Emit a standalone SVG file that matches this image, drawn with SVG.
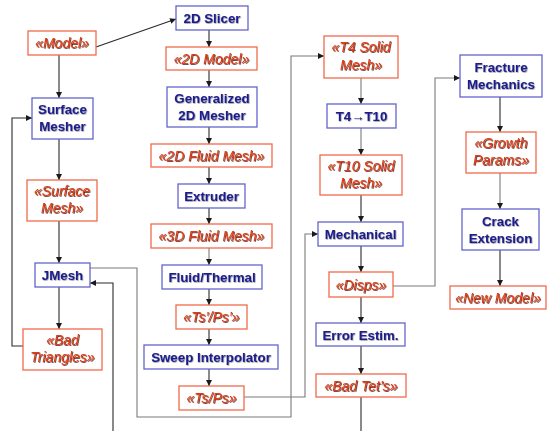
<svg xmlns="http://www.w3.org/2000/svg" width="547" height="431" viewBox="0 0 547 431">
<style>
.b rect{fill:#fff;stroke:#6464cc;stroke-width:1.3}
.r rect{fill:#fff;stroke:#f06a4a;stroke-width:1.3}
.b text{font-family:"Liberation Sans",Arial,sans-serif;font-weight:bold;font-size:13.3px;fill:#1c1c8c;text-anchor:middle;filter:url(#sh)}
.r text{font-family:"Liberation Sans",Arial,sans-serif;font-style:italic;font-size:14px;fill:#e33a12;text-anchor:middle;filter:url(#sh2)}
#connectors path{fill:none;stroke:#2a2a2a;stroke-width:1.1}
#connectors path.g{stroke:#7a7a7a}
</style>
<defs>
<filter id="sh" x="-5%" y="-10%" width="110%" height="130%"><feDropShadow dx="0.6" dy="0.6" stdDeviation="0.2" flood-color="#000" flood-opacity="0.5"/></filter>
<filter id="sh2" x="-5%" y="-10%" width="110%" height="130%"><feDropShadow dx="0.8" dy="0.8" stdDeviation="0.2" flood-color="#300" flood-opacity="0.85"/></filter>
<marker id="a" markerUnits="userSpaceOnUse" markerWidth="6" markerHeight="6" refX="6" refY="3" orient="auto"><path d="M0,0 L6,3 L0,6 z" fill="#1a1a1a"/></marker>
</defs>
<rect width="547" height="431" fill="#fff"/>
<g id="connectors">
<path d="M96,47 L176,19" marker-end="url(#a)"/>
<path d="M59,55 V98" marker-end="url(#a)"/>
<path d="M59,139 V180" marker-end="url(#a)"/>
<path d="M59,221 V263" marker-end="url(#a)"/>
<path d="M59,287 V329" marker-end="url(#a)"/>
<path d="M23,346 H12 V118 H32" marker-end="url(#a)"/>
<path d="M209,30 V47" marker-end="url(#a)"/>
<path d="M209,70 V87" marker-end="url(#a)"/>
<path d="M209,127 V144" marker-end="url(#a)"/>
<path d="M209,167 V184" marker-end="url(#a)"/>
<path d="M209,208 V224" marker-end="url(#a)"/>
<path class="g" d="M209,248 V265" marker-end="url(#a)"/>
<path d="M209,289 V305" marker-end="url(#a)"/>
<path d="M209,329 V345" marker-end="url(#a)"/>
<path d="M209,369 V386" marker-end="url(#a)"/>
<path class="g" d="M244,397 H305 V234 H318" marker-end="url(#a)"/>
<path class="g" d="M90,268 H137 V417 H291 V56 H324" marker-end="url(#a)"/>
<path class="g" d="M361,78 V104" marker-end="url(#a)"/>
<path class="g" d="M361,128 V155" marker-end="url(#a)"/>
<path d="M361,195 V222" marker-end="url(#a)"/>
<path d="M361,246 V272" marker-end="url(#a)"/>
<path d="M361,297 V323" marker-end="url(#a)"/>
<path d="M361,346 V374" marker-end="url(#a)"/>
<path d="M361,397 V431"/>
<path d="M113,431 V283 H90" marker-end="url(#a)"/>
<path class="g" d="M393,286 H435 V78 H460" marker-end="url(#a)"/>
<path d="M500,97 V132" marker-end="url(#a)"/>
<path class="g" d="M500,173 V209" marker-end="url(#a)"/>
<path d="M500,250 V286" marker-end="url(#a)"/>
</g>
<g id="model" class="r"><rect x="28" y="31" width="68" height="24"/><text x="62" y="48">«Model»</text></g>
<g id="surface-mesher" class="b"><rect x="32" y="98" width="61" height="41"/><text x="62.5" y="114">Surface</text><text x="62.5" y="131">Mesher</text></g>
<g id="surface-mesh" class="r"><rect x="27" y="180" width="70" height="41"/><text x="62" y="196">«Surface</text><text x="62" y="213">Mesh»</text></g>
<g id="jmesh" class="b"><rect x="35" y="263" width="55" height="24"/><text x="62.5" y="280">JMesh</text></g>
<g id="bad-triangles" class="r"><rect x="23" y="329" width="79" height="41"/><text x="62.5" y="345">«Bad</text><text x="62.5" y="362">Triangles»</text></g>
<g id="slicer" class="b"><rect x="176" y="6" width="72" height="24"/><text x="212" y="23">2D Slicer</text></g>
<g id="model2d" class="r"><rect x="166" y="47" width="91" height="23"/><text x="211.5" y="64">«2D Model»</text></g>
<g id="gen-mesher" class="b"><rect x="167" y="87" width="90" height="40"/><text x="212" y="103">Generalized</text><text x="212" y="120">2D Mesher</text></g>
<g id="fluid-mesh-2d" class="r"><rect x="151" y="144" width="121" height="23"/><text x="211.5" y="161">«2D Fluid Mesh»</text></g>
<g id="extruder" class="b"><rect x="178" y="184" width="67" height="24"/><text x="211.5" y="201">Extruder</text></g>
<g id="fluid-mesh-3d" class="r"><rect x="151" y="224" width="121" height="24"/><text x="211.5" y="241">«3D Fluid Mesh»</text></g>
<g id="fluid-thermal" class="b"><rect x="162" y="265" width="100" height="24"/><text x="212" y="282">Fluid/Thermal</text></g>
<g id="tsps-prime" class="r"><rect x="176" y="305" width="71" height="24"/><text x="211.5" y="322">«Ts’/Ps’»</text></g>
<g id="sweep" class="b"><rect x="144" y="345" width="134" height="24"/><text x="211" y="362">Sweep Interpolator</text></g>
<g id="tsps" class="r"><rect x="179" y="386" width="65" height="24"/><text x="211.5" y="403">«Ts/Ps»</text></g>
<g id="t4-solid" class="r"><rect x="324" y="36" width="74" height="42"/><text x="361" y="52">«T4 Solid</text><text x="361" y="70">Mesh»</text></g>
<g id="t4t10" class="b"><rect x="327" y="104" width="69" height="24"/><text x="361.5" y="121">T4→T10</text></g>
<g id="t10-solid" class="r"><rect x="320" y="155" width="82" height="40"/><text x="361" y="171">«T10 Solid</text><text x="361" y="188">Mesh»</text></g>
<g id="mechanical" class="b"><rect x="318" y="222" width="85" height="24"/><text x="360.5" y="239">Mechanical</text></g>
<g id="disps" class="r"><rect x="329" y="272" width="64" height="25"/><text x="361" y="290">«Disps»</text></g>
<g id="error-estim" class="b"><rect x="316" y="323" width="89" height="23"/><text x="360.5" y="340">Error Estim.</text></g>
<g id="bad-tets" class="r"><rect x="316" y="374" width="90" height="23"/><text x="361" y="391">«Bad Tet’s»</text></g>
<g id="fracture" class="b"><rect x="460" y="55" width="82" height="42"/><text x="501" y="72">Fracture</text><text x="501" y="89">Mechanics</text></g>
<g id="growth" class="r"><rect x="466" y="132" width="70" height="41"/><text x="501" y="148">«Growth</text><text x="501" y="165">Params»</text></g>
<g id="crack" class="b"><rect x="462" y="209" width="77" height="41"/><text x="500.5" y="226">Crack</text><text x="500.5" y="243">Extension</text></g>
<g id="new-model" class="r"><rect x="450" y="286" width="96" height="23"/><text x="498" y="303">«New Model»</text></g>
</svg>
